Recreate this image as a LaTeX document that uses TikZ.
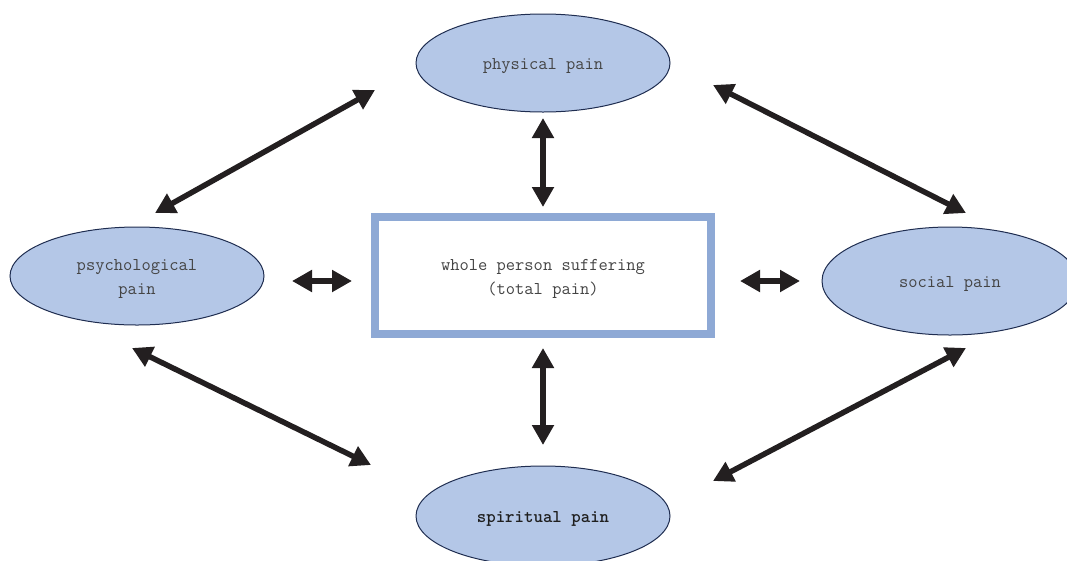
\documentclass[tikz,border=0pt]{standalone}
\usetikzlibrary{shapes.geometric,arrows.meta}
\definecolor{ellfill}{HTML}{B4C7E7}
\definecolor{elldraw}{HTML}{1F2D50}
\definecolor{boxdraw}{HTML}{8EA9D5}
\definecolor{arrowcol}{HTML}{231F20}
\definecolor{txt}{HTML}{444444}
\begin{document}
\begin{tikzpicture}[x=1pt,y=-1pt,
  pain/.style={ellipse,draw=elldraw,line width=1pt,fill=ellfill,
    minimum width=254pt,minimum height=98pt,inner sep=0pt},
  caption/.style={align=center,inner sep=0pt,yshift=-3pt,
    font=\ttfamily\fontsize{18}{24}\selectfont,text=txt},
  boldcaption/.style={caption,font=\ttfamily\bfseries\fontsize{18}{24}\selectfont,text=black!88},
  centrebox/.style={draw=boxdraw,line width=8pt,fill=white,
    minimum width=336pt,minimum height=117pt,inner sep=0pt},
  link/.style={line width=5.5pt,draw=arrowcol,
    {Triangle[length=20pt,width=21pt]}-{Triangle[length=20pt,width=21pt]}}]
\useasboundingbox (0,0) rectangle (1067,560);

% the four dimensions of pain and the centre box
\node[pain,label={[caption]center:physical pain}] (phys) at (543,63) {};
\node[pain,label={[caption]center:psychological\\pain}] (psych) at (137,276) {};
\node[pain,minimum width=256pt,minimum height=108pt,
  label={[caption]center:social pain}] (soc) at (950,281) {};
\node[pain,minimum height=100pt,
  label={[boldcaption]center:spiritual pain}] (spir) at (543,516) {};
\node[centrebox,label={[caption]center:whole person suffering\\(total pain)}]
  (whole) at (543,275.5) {};

% arrow end points
\coordinate (pp1) at (375,90);   \coordinate (pp2) at (155,213);
\coordinate (pw1) at (543,118);  \coordinate (pw2) at (543,207);
\coordinate (ps1) at (713,85);   \coordinate (ps2) at (966,213);
\coordinate (yw1) at (292,281);  \coordinate (yw2) at (352,281);
\coordinate (ws1) at (740,281);  \coordinate (ws2) at (800,281);
\coordinate (ys1) at (132,348);  \coordinate (ys2) at (371,465);
\coordinate (wr1) at (543,348);  \coordinate (wr2) at (543,445);
\coordinate (sr1) at (966,348);  \coordinate (sr2) at (713,481);

% two-way links
\draw[link] (pp1) -- (pp2);
\draw[link] (pw1) -- (pw2);
\draw[link] (ps1) -- (ps2);
\draw[link] (yw1) -- (yw2);
\draw[link] (ws1) -- (ws2);
\draw[link] (ys1) -- (ys2);
\draw[link] (wr1) -- (wr2);
\draw[link] (sr1) -- (sr2);
\end{tikzpicture}
\end{document}
